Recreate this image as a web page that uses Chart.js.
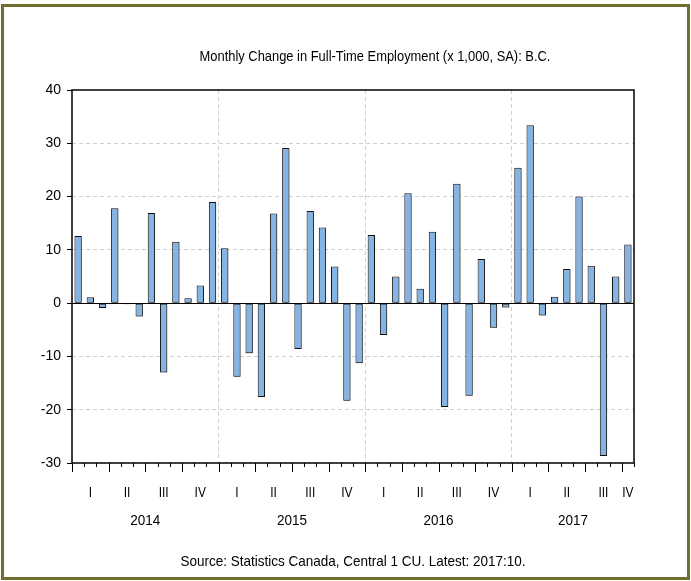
<!DOCTYPE html>
<html>
<head>
<meta charset="utf-8">
<script src="https://cdn.jsdelivr.net/npm/chart.js@4/dist/chart.umd.min.js"></script>
<style>
  html, body { margin: 0; padding: 0; background: #fff; }
  #wrap { position: relative; width: 691px; height: 581px; }
  #frame { position: absolute; left: 1px; top: 4px; width: 683px; height: 570px;
           border: 3px solid #6e6e2e; pointer-events: none; }
</style>
</head>
<body>
<div id="wrap">
  <canvas id="c" width="691" height="581"></canvas>
  <div id="frame"></div>
</div>
<script>
const months = [
  '2014:01','2014:02','2014:03','2014:04','2014:05','2014:06','2014:07','2014:08','2014:09','2014:10','2014:11','2014:12',
  '2015:01','2015:02','2015:03','2015:04','2015:05','2015:06','2015:07','2015:08','2015:09','2015:10','2015:11','2015:12',
  '2016:01','2016:02','2016:03','2016:04','2016:05','2016:06','2016:07','2016:08','2016:09','2016:10','2016:11','2016:12',
  '2017:01','2017:02','2017:03','2017:04','2017:05','2017:06','2017:07','2017:08','2017:09','2017:10'
];
const change = [
  12.6, 1.1, -0.9, 17.8, -0.2, -2.5, 16.9, -13.0, 11.5, 0.9, 3.3, 19.0,
  10.3, -13.8, -9.4, -17.6, 16.8, 29.1, -8.6, 17.3, 14.2, 6.9, -18.3, -11.3,
  12.8, -6.0, 5.0, 20.6, 2.7, 13.4, -19.5, 22.4, -17.4, 8.3, -4.6, -0.8,
  25.4, 33.4, -2.3, 1.2, 6.4, 20.0, 7.0, -28.7, 5.0, 11.0
];
const quarters = ['I', 'II', 'III', 'IV'];
const yTicks = [-30, -20, -10, 0, 10, 20, 30, 40];
const title = 'Monthly Change in Full-Time Employment (x 1,000, SA): B.C.';
const source = 'Source: Statistics Canada, Central 1 CU. Latest: 2017:10.';

const FONT = 'Arial, "Liberation Sans", sans-serif';

// narrow-looking text: squeeze horizontally
function narrowText(ctx, txt, cx, cy, sx) {
  ctx.save();
  ctx.translate(cx, cy);
  ctx.scale(sx, 1);
  ctx.fillText(txt, 0, 0);
  ctx.restore();
}

const decor = {
  id: 'decor',
  beforeDatasetsDraw(chart) {
    const ctx = chart.ctx;
    ctx.save();
    ctx.shadowColor = 'rgba(0,0,0,0.25)';
    ctx.shadowOffsetX = 1;
    ctx.shadowOffsetY = 1;
    ctx.shadowBlur = 0;
  },
  afterDatasetsDraw(chart) {
    chart.ctx.restore();
  },
  afterDraw(chart) {
    const ctx = chart.ctx, a = chart.chartArea;
    const x = chart.scales.x, y = chart.scales.y;
    const step = x.getPixelForValue(1) - x.getPixelForValue(0);
    ctx.save();
    ctx.strokeStyle = '#000';
    ctx.lineWidth = 1;
    // zero line
    const y0 = Math.round(y.getPixelForValue(0)) + 0.5;
    ctx.beginPath(); ctx.moveTo(a.left, y0); ctx.lineTo(a.right, y0); ctx.stroke();
    // frame
    ctx.lineWidth = 1.5;
    ctx.strokeRect(a.left, a.top, a.right - a.left, a.bottom - a.top);
    // month ticks, longer at quarter boundaries
    ctx.lineWidth = 1;
    for (let i = 0; i <= months.length; i++) {
      const px = Math.round(x.getPixelForValue(i) - step / 2) + 0.5;
      const mon = i < months.length ? parseInt(months[i].slice(5), 10) : 11;
      const len = (mon - 1) % 3 === 0 ? 9 : 4;
      ctx.beginPath(); ctx.moveTo(px, a.bottom); ctx.lineTo(px, a.bottom + len); ctx.stroke();
    }
    // quarter and year labels
    ctx.fillStyle = '#000';
    ctx.textAlign = 'center';
    ctx.textBaseline = 'middle';
    const groups = {};
    months.forEach((m, i) => {
      const yr = m.slice(0, 4), q = Math.floor((parseInt(m.slice(5), 10) - 1) / 3);
      (groups[yr] = groups[yr] || { idx: [], q: {} }).idx.push(i);
      (groups[yr].q[q] = groups[yr].q[q] || []).push(i);
    });
    ctx.font = '15px ' + FONT;
    Object.keys(groups).forEach(yr => {
      const g = groups[yr];
      Object.keys(g.q).forEach(q => {
        const ids = g.q[q];
        const cx = (x.getPixelForValue(ids[0]) + x.getPixelForValue(ids[ids.length - 1])) / 2;
        narrowText(ctx, quarters[q], cx, 493, 0.8);
      });
      const cx = (x.getPixelForValue(g.idx[0]) + x.getPixelForValue(g.idx[g.idx.length - 1])) / 2;
      narrowText(ctx, yr, cx, 521, 0.9);
    });
    // title and source
    ctx.font = '15px ' + FONT;
    narrowText(ctx, title, 375, 57, 0.86);
    ctx.font = '15px ' + FONT;
    narrowText(ctx, source, (a.left + a.right) / 2, 562, 0.9);
    ctx.restore();
  }
};

new Chart(document.getElementById('c'), {
  type: 'bar',
  data: {
    labels: months,
    datasets: [{
      data: change,
      backgroundColor: '#84b4e4',
      borderColor: '#111',
      borderWidth: 1,
      borderSkipped: false,
      barPercentage: 0.6,
      categoryPercentage: 1
    }]
  },
  options: {
    responsive: false,
    animation: false,
    layout: { padding: { left: 0, right: 57, top: 90, bottom: 118 } },
    plugins: { legend: { display: false }, tooltip: { enabled: false }, title: { display: false } },
    scales: {
      x: {
        ticks: { display: false },
        grid: {
          offset: true,
          drawTicks: false,
          color: c => (c.index % 12 === 0 && c.index > 0 && c.index < months.length) ? '#cfcfcf' : 'rgba(0,0,0,0)'
        },
        border: { display: false, dash: [4, 3] },
        afterFit: s => { s.height = 0; }
      },
      y: {
        min: -30,
        max: 40,
        afterBuildTicks: s => { s.ticks = yTicks.map(v => ({ value: v })); },
        ticks: { color: '#000', font: { size: 14, family: FONT }, padding: 6 },
        grid: {
          tickLength: 5,
          tickColor: '#000',
          color: c => (c.tick && (c.tick.value === 0 || c.tick.value === 40 || c.tick.value === -30)) ? 'rgba(0,0,0,0)' : '#cfcfcf'
        },
        border: { display: false, dash: [4, 3] },
        afterFit: s => { s.width = 72; }
      }
    }
  },
  plugins: [decor]
});
</script>
</body>
</html>
